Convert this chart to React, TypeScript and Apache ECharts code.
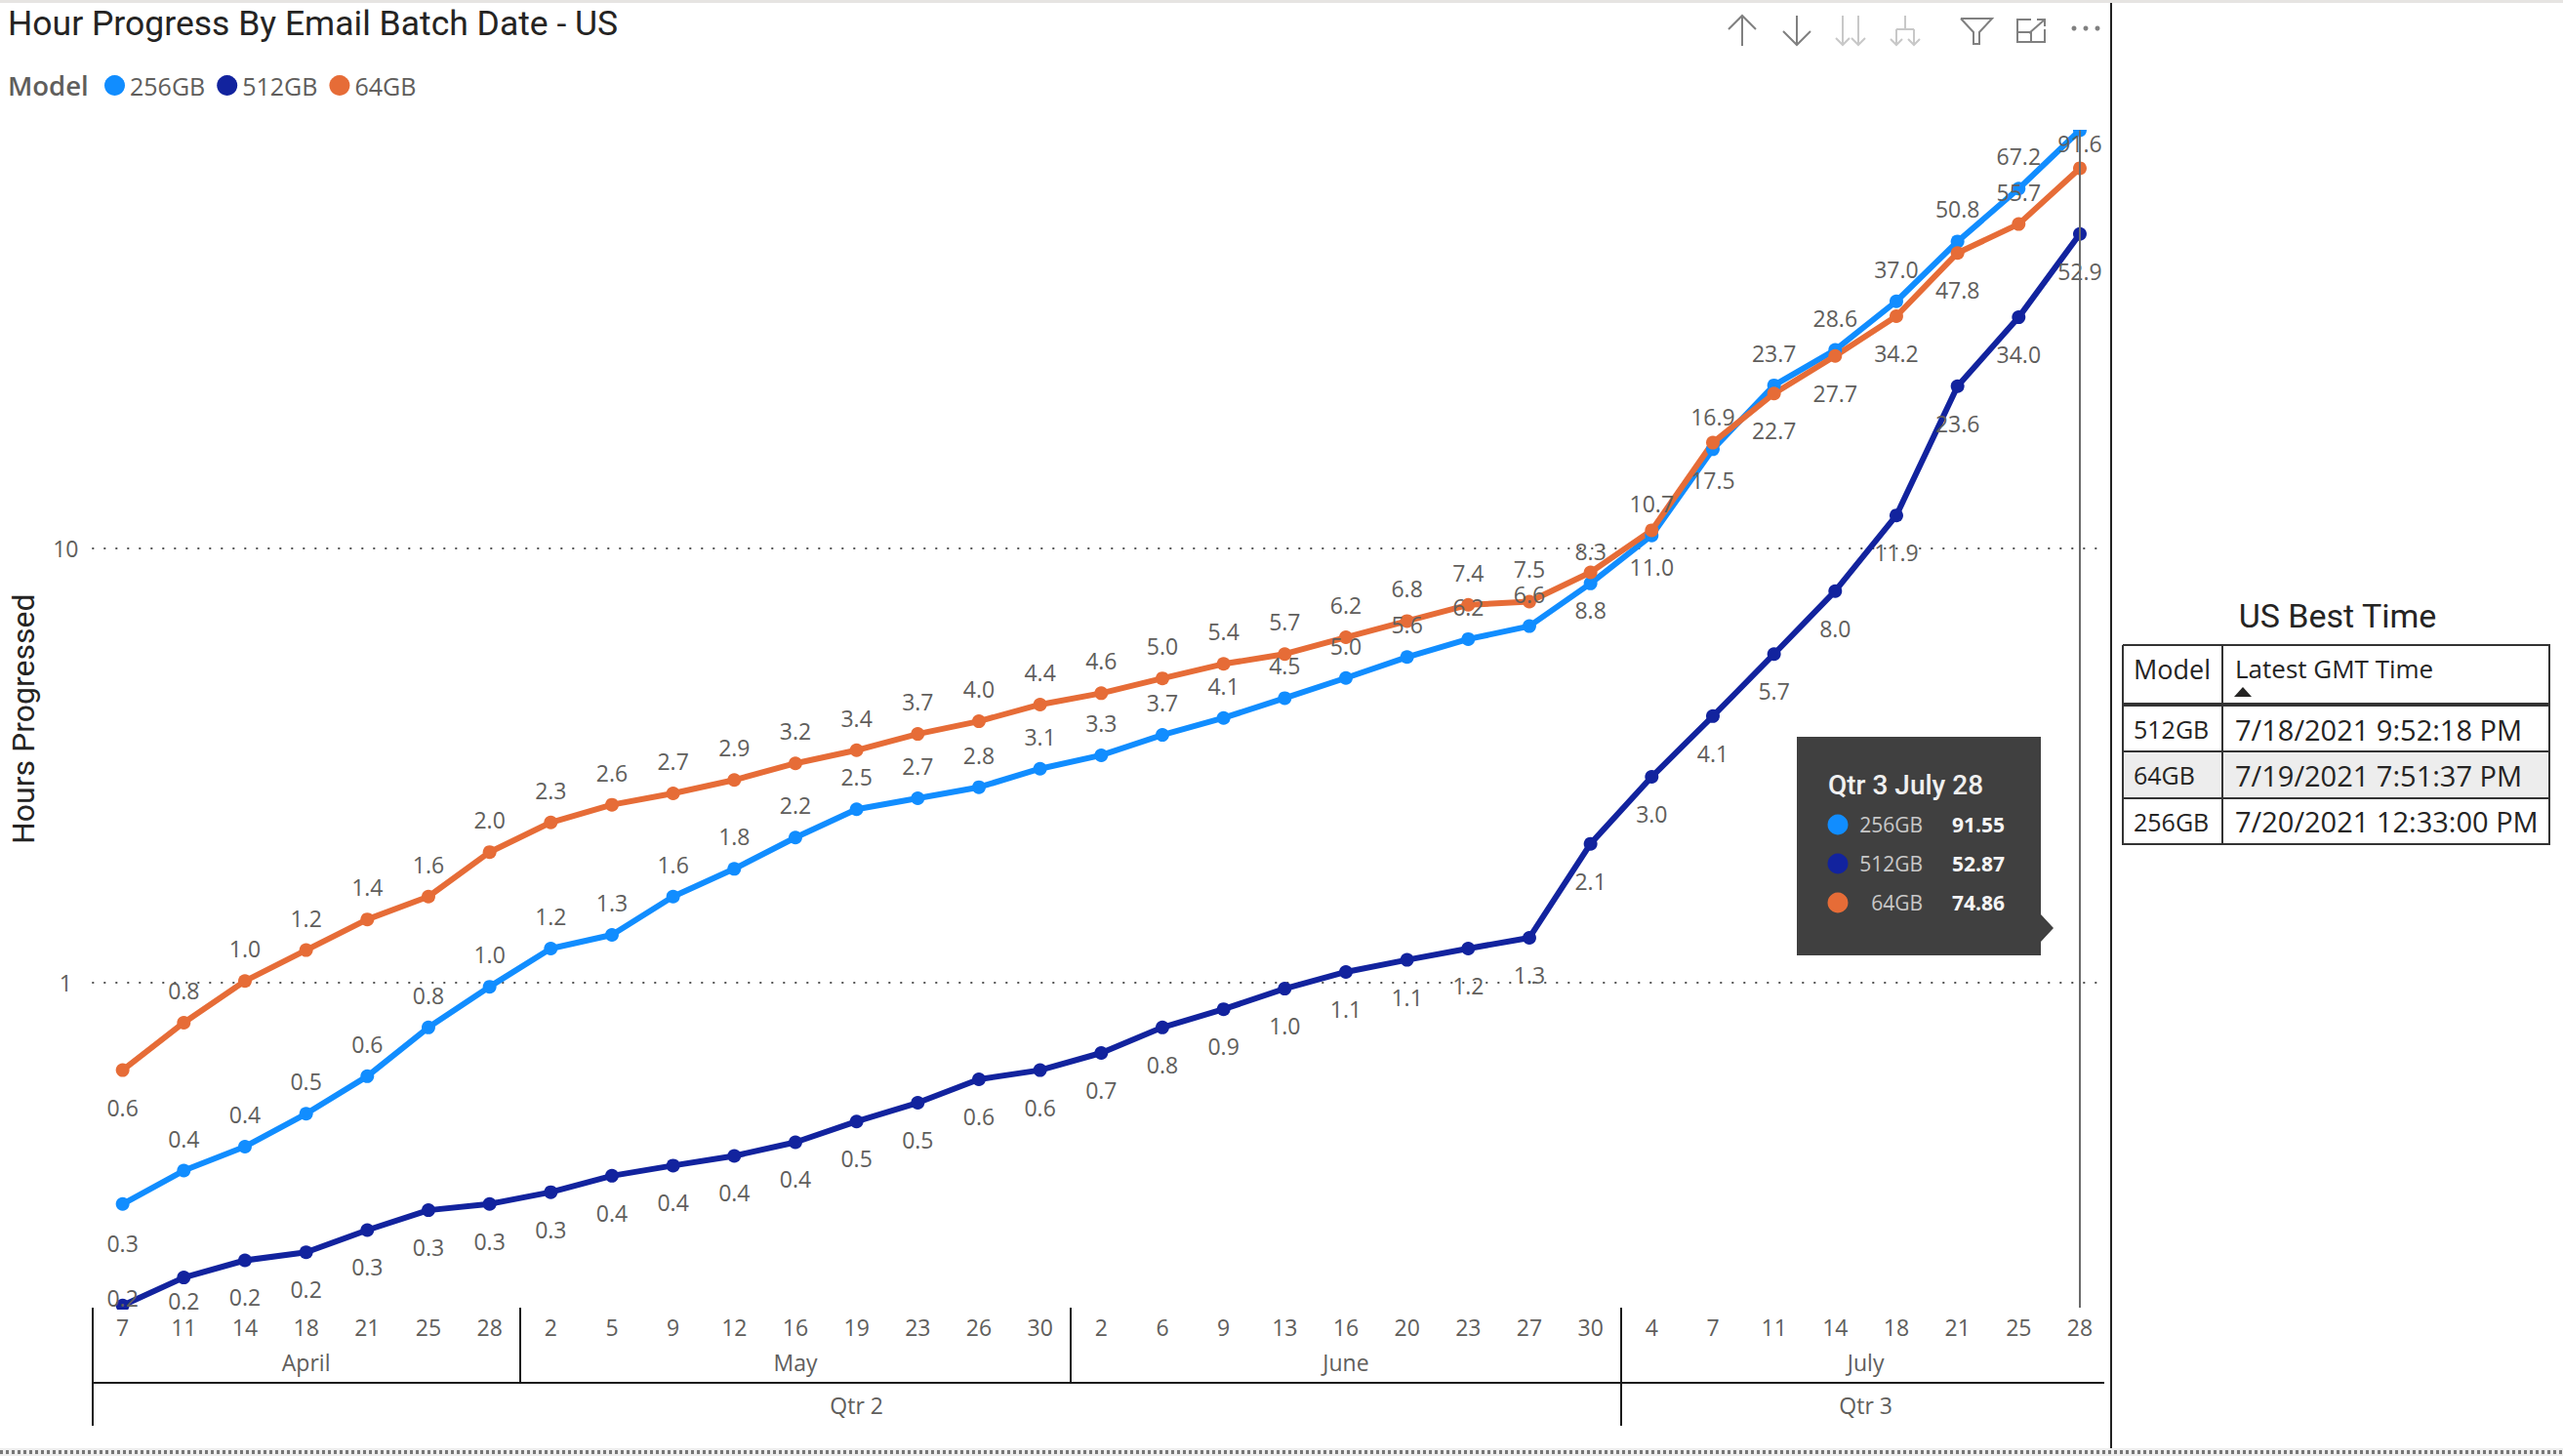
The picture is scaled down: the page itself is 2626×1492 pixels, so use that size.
import React, { useEffect, useRef } from "react";
import * as echarts from "echarts";

const days = ["7","11","14","18","21","25","28","2","5","9","12","16","19","23","26","30","2","6","9","13","16","20","23","27","30","4","7","11","14","18","21","25","28"];
const months = ["April", "May", "June", "July"];
const monthStarts = [0, 7, 16, 25, 33];
const quarters = ["Qtr 2", "Qtr 3"];
const quarterStarts = [0, 25, 33];

const gb256 = [0.31,0.37,0.42,0.50,0.61,0.79,0.98,1.20,1.29,1.58,1.83,2.16,2.51,2.66,2.82,3.11,3.34,3.72,4.07,4.52,5.03,5.62,6.18,6.62,8.3,10.7,16.9,23.7,28.6,37.0,50.8,67.2,91.55];
const gb512 = [0.181,0.21,0.23,0.24,0.27,0.30,0.31,0.33,0.36,0.38,0.40,0.43,0.48,0.53,0.60,0.63,0.69,0.79,0.87,0.97,1.06,1.13,1.20,1.27,2.09,2.98,4.11,5.71,7.97,11.9,23.6,34.0,52.87];
const gb64 = [0.63,0.81,1.01,1.19,1.40,1.58,2.00,2.34,2.57,2.73,2.93,3.2,3.43,3.74,4.0,4.37,4.64,5.02,5.42,5.71,6.24,6.8,7.41,7.54,8.8,11.0,17.5,22.7,27.7,34.2,47.8,55.7,74.86];

const bestModels = ["512GB", "64GB", "256GB"];
const bestTimes = ["7/18/2021 9:52:18 PM", "7/19/2021 7:51:37 PM", "7/20/2021 12:33:00 PM"];

const C256 = "#118DFF";
const C512 = "#12239E";
const C64 = "#E66C37";
const GREY = "#605E5C";
const FONT = "'Open Sans', sans-serif";
const HEAD = "Roboto, sans-serif";
const ABOVE = -33;
const BELOW = 38;

const fmt = (v: number) => (v + 1e-9).toFixed(1);

function points(values: number[], dy: (i: number) => number, hidden: number[] = []) {
  return values.map((value, i) => ({
    value,
    label: { show: !hidden.includes(i), offset: [0, dy(i)] },
  }));
}

const dy256 = (i: number) => (i === 0 ? 40 : i === 32 ? 13 : ABOVE);
const dy512 = (i: number) => (({ 0: -8, 1: 24, 2: 37 } as Record<number, number>)[i] ?? BELOW);
const dy64 = (i: number) => (i === 0 || (i >= 24 && i !== 31) ? BELOW : ABOVE);

function lineSeries(name: string, color: string, data: any[], extra: any = {}) {
  return {
    name,
    type: "line",
    data,
    symbol: "circle",
    symbolSize: 14,
    showAllSymbol: true,
    clip: true,
    lineStyle: { color, width: 6 },
    itemStyle: { color },
    label: {
      show: true,
      position: "inside",
      color: GREY,
      fontFamily: FONT,
      fontSize: 23,
      formatter: (p: any) => fmt(p.value),
    },
    emphasis: { disabled: true },
    ...extra,
  };
}

const text = (t: string, x: number, y: number, o: any = {}) => ({
  type: "text",
  z: 100,
  x,
  y,
  style: {
    text: t,
    fill: o.fill ?? "#252423",
    fontFamily: o.fontFamily ?? FONT,
    fontSize: o.fontSize ?? 24,
    fontWeight: o.fontWeight ?? "normal",
    align: o.align ?? "left",
    textAlign: o.align ?? "left",
    verticalAlign: "middle",
    textVerticalAlign: "middle",
  },
});
const seg = (pts: number[][], stroke: string, lineWidth = 2) => ({
  type: "polyline",
  z: 100,
  shape: { points: pts },
  style: { stroke, lineWidth, fill: "none" },
});
const box = (x: number, y: number, width: number, height: number, fill: string) => ({
  type: "rect",
  z: 100,
  shape: { x, y, width, height },
  style: { fill },
});
const dot = (cx: number, cy: number, r: number, fill: string) => ({
  type: "circle",
  z: 100,
  shape: { cx, cy, r },
  style: { fill },
});

function icons() {
  const a = "#808080";
  const l = "#C8C8C8";
  const down = (x: number, y0: number, y1: number, c: string, h: number) => [
    seg([[x, y0], [x, y1]], c),
    seg([[x - h, y1 - h], [x, y1], [x + h, y1 - h]], c),
  ];
  return [
    seg([[1785, 17], [1785, 47]], a),
    seg([[1771, 30], [1785, 16], [1799, 30]], a),
    ...down(1841, 16, 46, a, 14),
    ...down(1888, 16, 46, l, 7),
    ...down(1904, 16, 46, l, 7),
    seg([[1952, 16], [1952, 30]], l),
    seg([[1943, 30], [1961, 30]], l),
    ...down(1943, 30, 46, l, 6),
    ...down(1961, 30, 46, l, 6),
    seg([[2009, 19], [2041, 19], [2028, 33], [2028, 45], [2022, 45], [2022, 33], [2009, 19]], a),
    seg([[2081, 20], [2067, 20], [2067, 43], [2095, 43], [2095, 30]], a),
    seg([[2067, 33], [2081, 33], [2081, 43]], a),
    seg([[2079, 34], [2095, 20]], a),
    seg([[2087, 20], [2095, 20], [2095, 27]], a),
    dot(2125, 29, 2.5, a),
    dot(2137, 29, 2.5, a),
    dot(2149, 29, 2.5, a),
  ];
}

function hoverCard() {
  const last = gb256.length - 1;
  const rows: [string, string, number][] = [
    ["256GB", C256, gb256[last]],
    ["512GB", C512, gb512[last]],
    ["64GB", C64, gb64[last]],
  ];
  const out: any[] = [
    box(1841, 755, 250, 224, "#404040"),
    { type: "polygon", z: 100, shape: { points: [[2091, 937], [2104, 951], [2091, 965]] }, style: { fill: "#404040" } },
    text("Qtr 3 July 28", 1873, 804, { fill: "#F0F0F0", fontSize: 28, fontWeight: 500, fontFamily: HEAD }),
  ];
  rows.forEach(([name, color, v], i) => {
    const y = 845 + i * 40;
    out.push(dot(1883, y, 10.5, color));
    out.push(text(name, 1970, y, { fill: "#C8C8C8", fontSize: 21, align: "right" }));
    out.push(text(v.toFixed(2), 2000, y, { fill: "#F5F5F5", fontSize: 21, fontWeight: 700 }));
  });
  return out;
}

function bestTable() {
  const c = "#333333";
  const L = 2175, R = 2612, M = 2277, T = 661, H = 722;
  const rowY = [722, 770, 818, 865];
  const out: any[] = [
    text("US Best Time", 2395, 631, { fontFamily: HEAD, fontSize: 34, align: "center", fill: "#252423" }),
    box(L, rowY[1], R - L, rowY[2] - rowY[1], "#EDEDED"),
    seg([[L, T], [R, T], [R, rowY[3]], [L, rowY[3]], [L, T]], c, 2),
    seg([[M, T], [M, rowY[3]]], c, 2),
    seg([[L, H], [R, H]], c, 4),
    seg([[L, rowY[1]], [R, rowY[1]]], c, 2),
    seg([[L, rowY[2]], [R, rowY[2]]], c, 2),
    text("Model", 2186, 685, { fontSize: 27 }),
    text("Latest GMT Time", 2290, 685, { fontSize: 26 }),
    { type: "polygon", z: 100, shape: { points: [[2289, 714], [2298, 704], [2307, 714]] }, style: { fill: "#252423" } },
  ];
  bestModels.forEach((m, i) => {
    const y = (rowY[i + 1] + rowY[i]) / 2 + (i === 0 ? 1 : 0);
    out.push(text(m, 2186, y, { fontSize: 25 }));
    out.push(text(bestTimes[i], 2290, y, { fontSize: 29 }));
  });
  return out;
}

function frame() {
  return [
    box(0, 0, 2626, 3, "#E6E4E2"),
    box(2156, 130, 6, 1285, "#FFFFFF"),
    box(2110, 118, 40, 15, "#FFFFFF"),
    box(100, 1342, 50, 8, "#FFFFFF"),
    seg([[94, 1417], [2156, 1417]], "#1A1A1A", 2),
    seg([[2163, 3], [2163, 1484]], "#222222", 2),
    box(0, 1484, 2626, 8, "#EEEEEE"),
    { type: "line", z: 100, shape: { x1: 0, y1: 1488, x2: 2626, y2: 1488 }, style: { stroke: "#777777", lineWidth: 4, lineDash: [3, 3] } },
  ];
}

export default function App() {
  const ref = useRef<HTMLDivElement>(null);
  useEffect(() => {
    const chart = echarts.init(ref.current!, undefined, { renderer: "svg" });
    const monthMids = months.map((_, i) => (monthStarts[i] + monthStarts[i + 1]) / 2);
    const quarterMids = quarters.map((_, i) => (quarterStarts[i] + quarterStarts[i + 1]) / 2);
    const axisText = { color: GREY, fontFamily: FONT, fontSize: 23 };
    chart.setOption({
      animation: false,
      backgroundColor: "#FFFFFF",
      title: {
        text: "Hour Progress By Email Batch Date - US",
        left: 8,
        top: 6,
        padding: 0,
        textStyle: { fontFamily: HEAD, fontSize: 35.5, fontWeight: "normal", color: "#252423" },
      },
      legend: {
        show: true,
        left: 107,
        top: 75,
        padding: 0,
        icon: "circle",
        itemWidth: 21,
        itemHeight: 21,
        itemGap: 12,
        textStyle: { color: GREY, fontFamily: FONT, fontSize: 25 },
        data: ["256GB", "512GB", "64GB"],
      },
      grid: { left: 94.3, top: 133.5, width: 2068, height: 1206.5, containLabel: false, outerBoundsMode: "none" },
      xAxis: [
        {
          type: "category",
          data: days,
          position: "bottom",
          boundaryGap: true,
          axisLine: { show: false },
          axisTick: { show: false },
          axisLabel: { ...axisText, interval: 0, margin: 8 },
          splitLine: { show: false },
        },
        {
          type: "value",
          min: 0,
          max: 33,
          position: "bottom",
          offset: 77,
          axisLine: { show: false },
          axisTick: { show: true, inside: true, length: 77, customValues: monthStarts.slice(0, 4), lineStyle: { color: "#1A1A1A", width: 2 } },
          axisLabel: {
            ...axisText,
            inside: true,
            margin: 10,
            customValues: monthMids,
            hideOverlap: false,
            formatter: (v: number) => months[monthMids.indexOf(v)] ?? "",
          },
          splitLine: { show: false },
        },
        {
          type: "value",
          min: 0,
          max: 33,
          position: "bottom",
          offset: 121,
          axisLine: { show: false },
          axisTick: { show: true, inside: true, length: 121, customValues: quarterStarts.slice(0, 2), lineStyle: { color: "#1A1A1A", width: 2 } },
          axisLabel: {
            ...axisText,
            inside: true,
            margin: 10,
            customValues: quarterMids,
            hideOverlap: false,
            formatter: (v: number) => quarters[quarterMids.indexOf(v)] ?? "",
          },
          splitLine: { show: false },
        },
      ],
      yAxis: {
        type: "log",
        logBase: 10,
        min: 0.179,
        max: 91.55,
        name: "Hours Progressed",
        nameLocation: "middle",
        nameGap: 54,
        nameTextStyle: { fontFamily: HEAD, fontSize: 32, color: "#252423" },
        axisLine: { show: false },
        axisTick: { show: false },
        axisLabel: {
          ...axisText,
          margin: 27,
          align: "center",
          showMinLabel: false,
          showMaxLabel: false,
          formatter: (v: number) => (Math.abs(v - 1) < 1e-6 ? "1" : Math.abs(v - 10) < 1e-6 ? "10" : ""),
        },
        splitLine: {
          show: true,
          showMinLine: false,
          showMaxLine: false,
          lineStyle: { color: "#555555", width: 2, type: [2, 10] },
        },
      },
      series: [
        lineSeries("256GB", C256, points(gb256, dy256), {
          markLine: {
            silent: true,
            symbol: "none",
            label: { show: false },
            lineStyle: { color: "#6B6B6B", width: 2, type: "solid" },
            data: [{ xAxis: days.length - 1 }],
          },
        }),
        lineSeries("512GB", C512, points(gb512, dy512)),
        lineSeries("64GB", C64, points(gb64, dy64, [gb64.length - 1])),
      ],
      graphic: {
        elements: [
          text("Model", 8, 87, { fontWeight: 600, fontSize: 27.5, fill: GREY }),
          ...frame(),
          ...icons(),
          ...hoverCard(),
          ...bestTable(),
        ],
      },
    });
    return () => chart.dispose();
  }, []);
  return <div ref={ref} style={{ position: "absolute", left: 0, top: 0, width: 2626, height: 1492 }} />;
}
